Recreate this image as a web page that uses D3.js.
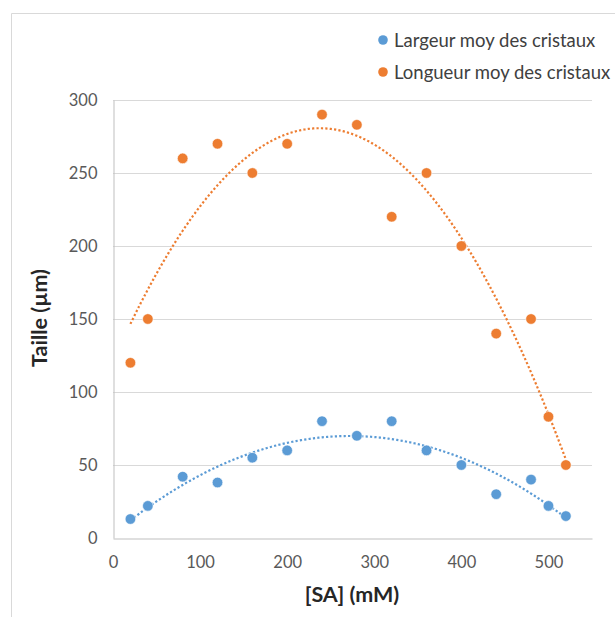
<!DOCTYPE html>
<html><head><meta charset="utf-8">
<script src="https://cdn.jsdelivr.net/npm/d3@7"></script>
<style>body{margin:0;background:#fff}svg{display:block}text{font-family:Lato,"Open Sans",sans-serif}</style>
</head><body><svg id="c" width="615" height="617"></svg>
<script>
const xValues = [20,40,80,120,160,200,240,280,320,360,400,440,480,500,520];
const largeur = [13,22,42,38,55,60,80,70,80,60,50,30,40,22,15];
const longueur = [120,150,260,270,250,270,290,283,220,250,200,140,150,83,50];
const seriesNames = ["Largeur moy des cristaux","Longueur moy des cristaux"];
const seriesColors = ["#5B9BD5","#ED7D31"];
const xTicks = [0,100,200,300,400,500];
const yTicks = [0,50,100,150,200,250,300];

const svg = d3.select("#c");
svg.append("path").attr("d","M11.5,617 V13.5 H615").attr("fill","none").attr("stroke","#D9D9D9");

const x = d3.scaleLinear().domain([0,550]).range([113,592]);
const y = d3.scaleLinear().domain([0,300]).range([538,100]);

svg.append("g").selectAll("line").data(yTicks.filter(d=>d>0)).join("line")
  .attr("x1",113).attr("x2",592).attr("y1",d=>Math.round(y(d))+0.5).attr("y2",d=>Math.round(y(d))+0.5)
  .attr("stroke","#D9D9D9");

const xa = svg.append("g").attr("transform","translate(0,538.5)")
  .call(d3.axisBottom(x).tickValues(xTicks).tickSize(0).tickPadding(18));
const ya = svg.append("g").attr("transform","translate(113.5,0)")
  .call(d3.axisLeft(y).tickValues(yTicks).tickSize(0).tickPadding(16));
[xa,ya].forEach(a=>{
  a.select(".domain").attr("stroke","#BFBFBF");
  a.selectAll("text").attr("fill","#595959").style("font-size","16.5px").style("font-family","Lato,sans-serif");
});

function polyfit2(xs, ys){
  let S=[0,0,0,0,0], T=[0,0,0];
  xs.forEach((xv,i)=>{let p=1;for(let k=0;k<5;k++){S[k]+=p;if(k<3)T[k]+=p*ys[i];p*=xv;}});
  const A=[[S[0],S[1],S[2],T[0]],[S[1],S[2],S[3],T[1]],[S[2],S[3],S[4],T[2]]];
  for(let i=0;i<3;i++){for(let j=i+1;j<3;j++){const f=A[j][i]/A[i][i];for(let k=i;k<4;k++)A[j][k]-=f*A[i][k];}}
  const c=[0,0,0];
  for(let i=2;i>=0;i--){let s=A[i][3];for(let k=i+1;k<3;k++)s-=A[i][k]*c[k];c[i]=s/A[i][i];}
  return xv=>c[0]+c[1]*xv+c[2]*xv*xv;
}
const series=[largeur,longueur];
const line=d3.line().x(d=>x(d[0])).y(d=>y(d[1]));
series.forEach((vals,si)=>{
  const f=polyfit2(xValues,vals);
  const pts=d3.range(xValues[0],xValues[xValues.length-1]+0.001,2).map(v=>[v,f(v)]);
  svg.append("path").attr("d",line(pts)).attr("fill","none").attr("stroke",seriesColors[si])
    .attr("stroke-width",2.2).attr("stroke-dasharray","2.2 2.2");
});
series.forEach((vals,si)=>{
  svg.append("g").selectAll("circle").data(vals).join("circle")
    .attr("cx",(d,i)=>x(xValues[i])).attr("cy",d=>y(d)).attr("r",5.3)
    .attr("fill",seriesColors[si]).attr("stroke","#fff").attr("stroke-width",0.6);
});

svg.append("text").attr("x",352).attr("y",602).attr("text-anchor","middle")
  .style("font-size","21.5px").style("font-weight","bold").attr("fill","#262626").text("[SA] (mM)");
svg.append("text").attr("transform","translate(47,318) rotate(-90)").attr("text-anchor","middle")
  .style("font-size","21.5px").style("font-weight","bold").attr("fill","#262626").text("Taille (µm)");

const lg=svg.append("g");
seriesNames.forEach((n,i)=>{
  const yy=40+i*32;
  lg.append("circle").attr("cx",383).attr("cy",yy).attr("r",4.8).attr("fill",seriesColors[i]);
  lg.append("text").attr("x",394).attr("y",yy+6.5).attr("fill","#404040").style("font-size","18.5px").text(n);
});
</script></body></html>
